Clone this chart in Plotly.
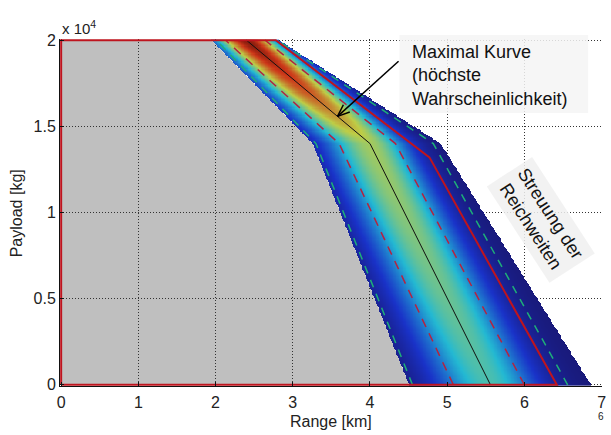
import numpy as np
import plotly.graph_objects as go

# ---- data -------------------------------------------------------------
# payload levels (kg) at which the range curves are given
payload_levels = [0, 14000, 20000]

# most probable range (black line)
center_range = [5.56, 4.00, 2.40]
# lower / upper limits of the range scatter band
band_low = [4.51, 3.26, 1.95]
band_high = [6.87, 4.92, 2.82]
# +/- 1 sigma lines (red dashed)
sigma_low = [5.08, 3.60, 2.13]
sigma_high = [6.00, 4.33, 2.64]
# outer lines (green dashed)
outer_low = [4.55, 3.30, 2.01]
outer_high = [6.56, 4.82, 2.80]

# peak probability density on the most probable curve
density_levels = [0, 14000, 17000, 20000]
peak_density = [0.43, 0.56, 0.80, 0.97]

# payload-range envelope (red solid)
envelope_range = [0, 0, 2.78, 4.77, 6.42, 0]
envelope_payload = [0, 20000, 20000, 13200, 0, 0]

x_ticks = [0, 1, 2, 3, 4, 5, 6, 7]
x_tick_text = ["0", "1", "2", "3", "4", "5", "6", "7"]
y_ticks = [0, 5000, 10000, 15000, 20000]
y_tick_text = ["0", "0.5", "1", "1.5", "2"]

# ---- probability density over the band --------------------------------
xg = np.round(np.arange(1.80, 7.0, 0.01), 3)
yg = np.linspace(0, 20000, 301)
c = np.interp(yg, payload_levels, center_range)[:, None]
sl = c - np.interp(yg, payload_levels, sigma_low)[:, None]
sh = np.interp(yg, payload_levels, sigma_high)[:, None] - c
amp = np.interp(yg, density_levels, peak_density)[:, None]
lo = np.interp(yg, payload_levels, band_low)[:, None]
hi = np.interp(yg, payload_levels, band_high)[:, None]
X = xg[None, :]
s = np.where(X < c, sl, sh)
z = amp * np.exp(-0.5 * ((X - c) / s) ** 2)
z = np.where((X < lo) | (X > hi), np.nan, np.round(z, 3))

jet = [
    [0.0, "rgb(25,25,120)"],
    [0.14, "rgb(25,50,200)"],
    [0.375, "rgb(35,185,210)"],
    [0.6, "rgb(190,205,70)"],
    [0.85, "rgb(205,55,25)"],
    [1.0, "rgb(115,20,10)"],
]

# ---- layout geometry ----------------------------------------------------
W, H = 611, 435
ML, MR, MT, MB = 60, 5, 39, 49
PW, PH = W - ML - MR, H - MT - MB


def px_x(px):
    return (px - ML) / PW


def px_y(py):
    return (H - MB - py) / PH


fig = go.Figure()

fig.add_trace(go.Heatmap(
    x=xg, y=yg, z=z, zmin=0, zmax=1, colorscale=jet,
    showscale=False, zsmooth=False, hoverinfo="skip",
))

for arr in (outer_low, outer_high):
    fig.add_trace(go.Scatter(
        x=arr, y=payload_levels, mode="lines",
        line=dict(color="rgb(30,175,120)", width=1.5, dash="8px,7px"),
        hoverinfo="skip",
    ))
for arr in (sigma_low, sigma_high):
    fig.add_trace(go.Scatter(
        x=arr, y=payload_levels, mode="lines",
        line=dict(color="rgb(180,35,65)", width=1.5, dash="9px,7px"),
        hoverinfo="skip",
    ))
fig.add_trace(go.Scatter(
    x=center_range, y=payload_levels, mode="lines",
    line=dict(color="#111111", width=1), hoverinfo="skip",
))
fig.add_trace(go.Scatter(
    x=envelope_range, y=envelope_payload, mode="lines",
    line=dict(color="rgb(190,20,30)", width=2), hoverinfo="skip",
))

# grey area below the scatter band
gray_x = [0, 0] + band_low[::-1] + [0]
gray_y = [0, 20000] + payload_levels[::-1] + [0]
path = "M " + " L ".join(f"{a},{b}" for a, b in zip(gray_x, gray_y)) + " Z"
shapes = [dict(type="path", path=path, xref="x", yref="y", layer="below",
               fillcolor="#bfbfbf", line=dict(width=0))]

# box behind the label of the most probable curve
shapes.append(dict(type="rect", xref="paper", yref="paper", layer="above",
                   x0=px_x(402), x1=px_x(592), y0=px_y(113), y1=px_y(35),
                   fillcolor="rgba(244,244,244,0.85)", line=dict(width=0)))

# arrow pointing at the most probable curve
head_x, head_y = 3.58, 15580
tail_x, tail_y = 4.37, 18780
shapes.append(dict(type="line", xref="x", yref="y", x0=tail_x, y0=tail_y,
                   x1=head_x, y1=head_y, line=dict(color="black", width=1.5),
                   layer="above"))
for wx, wy in ((12.2, 4.4), (5.8, 11.6)):
    shapes.append(dict(type="line", xref="x", yref="y",
                       xsizemode="pixel", ysizemode="pixel",
                       xanchor=head_x, yanchor=head_y,
                       x0=0, y0=0, x1=wx, y1=wy,
                       line=dict(color="black", width=1.5), layer="above"))

font = "Liberation Sans, Arial, sans-serif"
annotations = [
    dict(text="Maximal Kurve<br>(höchste<br>Wahrscheinlichkeit)",
         xref="paper", yref="paper", x=px_x(413), y=px_y(40),
         xanchor="left", yanchor="top", align="left", showarrow=False,
         font=dict(family=font, size=18, color="#111111")),
    dict(text="Streuung der<br>Reichweiten", textangle=57,
         xref="paper", yref="paper", x=px_x(545), y=px_y(220),
         xanchor="center", yanchor="middle", showarrow=False,
         bgcolor="rgba(240,240,240,0.85)", borderpad=5,
         font=dict(family=font, size=18, color="#111111")),
    dict(text="x 10<sup>4</sup>", xref="paper", yref="paper",
         x=px_x(60), y=px_y(39), xanchor="left", yanchor="bottom",
         showarrow=False, font=dict(family=font, size=15, color="#222222")),
    dict(text="6", xref="paper", yref="paper", x=px_x(605), y=px_y(416),
         xanchor="center", yanchor="middle", showarrow=False,
         font=dict(family=font, size=10, color="#222222")),
    dict(text="Range [km]", xref="paper", yref="paper", x=px_x(333),
         y=px_y(421), xanchor="center", yanchor="middle", showarrow=False,
         font=dict(family=font, size=16, color="#222222")),
    dict(text="Payload [kg]", textangle=-90, xref="paper", yref="paper",
         x=px_x(16), y=px_y(213), xanchor="center", yanchor="middle",
         showarrow=False, font=dict(family=font, size=16, color="#222222")),
]

axis_common = dict(
    showgrid=True, gridcolor="#333333", griddash="1px,2px", gridwidth=1,
    zeroline=False, showline=True, linecolor="#111111", linewidth=1,
    ticks="inside", ticklen=4, tickcolor="#111111",
    tickfont=dict(family=font, size=16, color="#222222"),
)

fig.update_layout(
    width=W, height=H,
    margin=dict(l=ML, r=MR, t=MT, b=MB),
    paper_bgcolor="white", plot_bgcolor="white",
    showlegend=False,
    shapes=shapes, annotations=annotations,
    xaxis=dict(range=[-0.015, 7.005], tickvals=x_ticks, ticktext=x_tick_text,
               ticklabelstandoff=2, **axis_common),
    yaxis=dict(range=[-70, 20070], tickvals=y_ticks, ticktext=y_tick_text,
               **axis_common),
)

fig.write_html("out.html")
